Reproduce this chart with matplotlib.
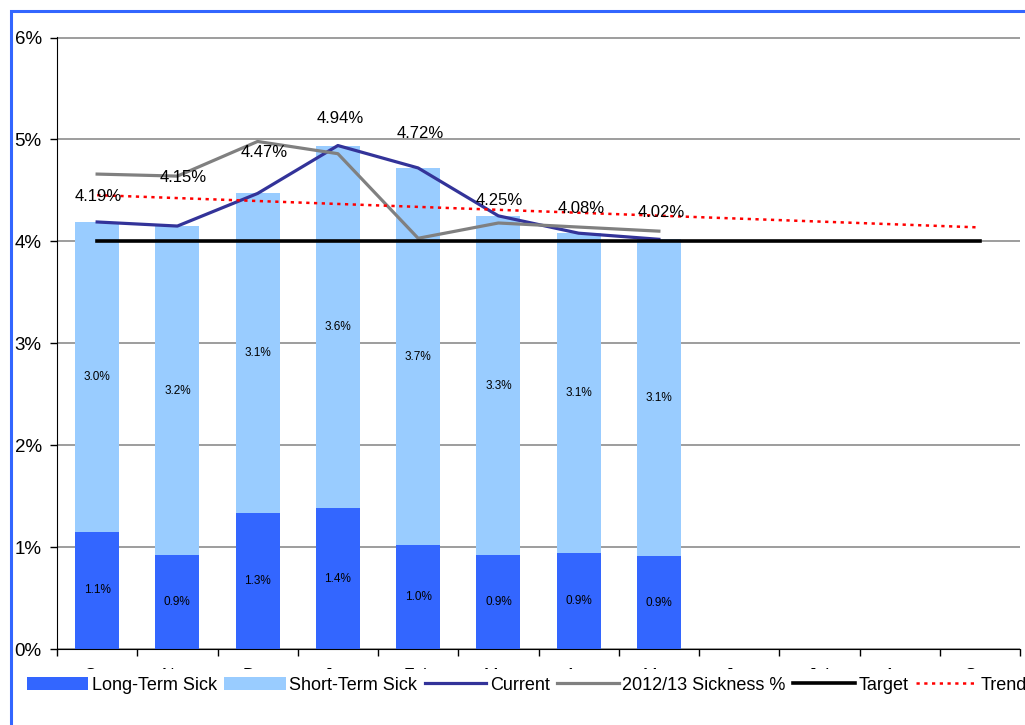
import matplotlib
matplotlib.use("Agg")
import matplotlib.pyplot as plt
from matplotlib.patches import Rectangle, Patch
from matplotlib.lines import Line2D
import numpy as np

plt.rcParams['font.family'] = ['Liberation Sans', 'DejaVu Sans']

# Monthly sickness absence (% of working time)
months = ['Oct', 'Nov', 'Dec', 'Jan', 'Feb', 'Mar', 'Apr', 'May', 'Jun', 'Jul', 'Aug', 'Sep']
long_term = [1.15, 0.92, 1.33, 1.38, 1.02, 0.92, 0.94, 0.91]
current = [4.19, 4.15, 4.47, 4.94, 4.72, 4.25, 4.08, 4.02]
prev_year = [4.66, 4.64, 4.98, 4.86, 4.03, 4.18, 4.14, 4.10]
target = 4.0

# label nudges (pixels) for the monthly totals
label_dx = [1, 6, 7, 2, 2, 1, 3, 2]
label_dy = [25, 49, 41, 27, 34, 15, 25, 27]

DARK = '#3366FF'
LIGHT = '#99CCFF'
NAVY = '#333399'
GREY = '#808080'

n = len(current)
x = np.arange(n)
xall = np.arange(len(months))
long_term = np.array(long_term)
current = np.array(current)
short_term = current - long_term

# linear trendline of the current year, run out over the full year
coef = np.polyfit(x, current, 1)
trend = np.polyval(coef, xall)

fig = plt.figure(figsize=(10.25, 7.25), dpi=100)
ax = fig.add_axes([57 / 1025, 1 - 649 / 725, (1020 - 57) / 1025, (649 - 37) / 725])

ax.bar(x, long_term, width=0.55, color=DARK, zorder=2)
ax.bar(x, short_term, width=0.55, bottom=long_term, color=LIGHT, zorder=2)

for i in range(n):
    ax.text(i, long_term[i] / 2, f"{long_term[i]:.1f}%", ha='center', va='center',
            fontsize=8.5, zorder=6)
    ax.text(i, long_term[i] + short_term[i] / 2, f"{short_term[i]:.1f}%", ha='center',
            va='center', fontsize=8.5, zorder=6)

ax.plot(x, current, color=NAVY, lw=2.3, zorder=3)
ax.plot(x, prev_year, color=GREY, lw=2.3, zorder=3)
ax.plot([xall[0], xall[-1]], [target, target], color='black', lw=2.6, zorder=3)
ax.plot(xall, trend, color='#FF0000', lw=1.8, dashes=(1.3, 1.8), zorder=4)

for i in range(n):
    ax.annotate(f"{current[i]:.2f}%", (i, current[i]), xytext=(label_dx[i], label_dy[i]),
                textcoords='offset pixels', ha='center', va='center', fontsize=12, zorder=6)

ax.set_xlim(-0.5, len(months) - 0.5)
ax.set_ylim(0, 6.005)
ax.set_yticks(range(7))
ax.set_yticklabels([f"{v}%" for v in range(7)], fontsize=13.5)
ax.set_xticks(xall)
ax.set_xticklabels(months, fontsize=12.5)
ax.set_xticks(np.arange(-0.5, len(months)), minor=True)
ax.tick_params(axis='x', which='major', length=0, pad=14)
ax.tick_params(axis='x', which='minor', length=5, width=1, direction='out')
ax.tick_params(axis='y', length=5, width=1, direction='out', pad=6)

ax.yaxis.grid(True, color='#8c8c8c', lw=1.2)
ax.set_axisbelow(True)
for side in ('top', 'right'):
    ax.spines[side].set_visible(False)
ax.spines['left'].set_color('black')
ax.spines['bottom'].set_color('black')

handles = [
    Patch(facecolor=DARK, edgecolor='none'),
    Patch(facecolor=LIGHT, edgecolor='none'),
    Line2D([], [], color=NAVY, lw=2.3),
    Line2D([], [], color=GREY, lw=2.3),
    Line2D([], [], color='black', lw=2.6),
    Line2D([], [], color='#FF0000', lw=1.8, dashes=(1.3, 1.8)),
]
labels = ['Long-Term Sick', 'Short-Term Sick', 'Current', '2012/13 Sickness %', 'Target', 'Trend']
leg = fig.legend(handles, labels, loc='center', bbox_to_anchor=(0.514, 0.055), ncol=6,
                 frameon=True, facecolor='white', edgecolor='none', framealpha=1,
                 fancybox=False, fontsize=13, handlelength=3.4, handletextpad=0.2,
                 columnspacing=0.42, borderpad=0.42, borderaxespad=0)

# blue frame around the chart area
frame = Rectangle((10.5 / 1025, -0.1), 1.2, 1.1 - 10.5 / 725,
                  transform=fig.transFigure, fill=False,
                  edgecolor=DARK, lw=2.2, zorder=10)
fig.patches.append(frame)

fig.savefig('out.png', dpi=100)
